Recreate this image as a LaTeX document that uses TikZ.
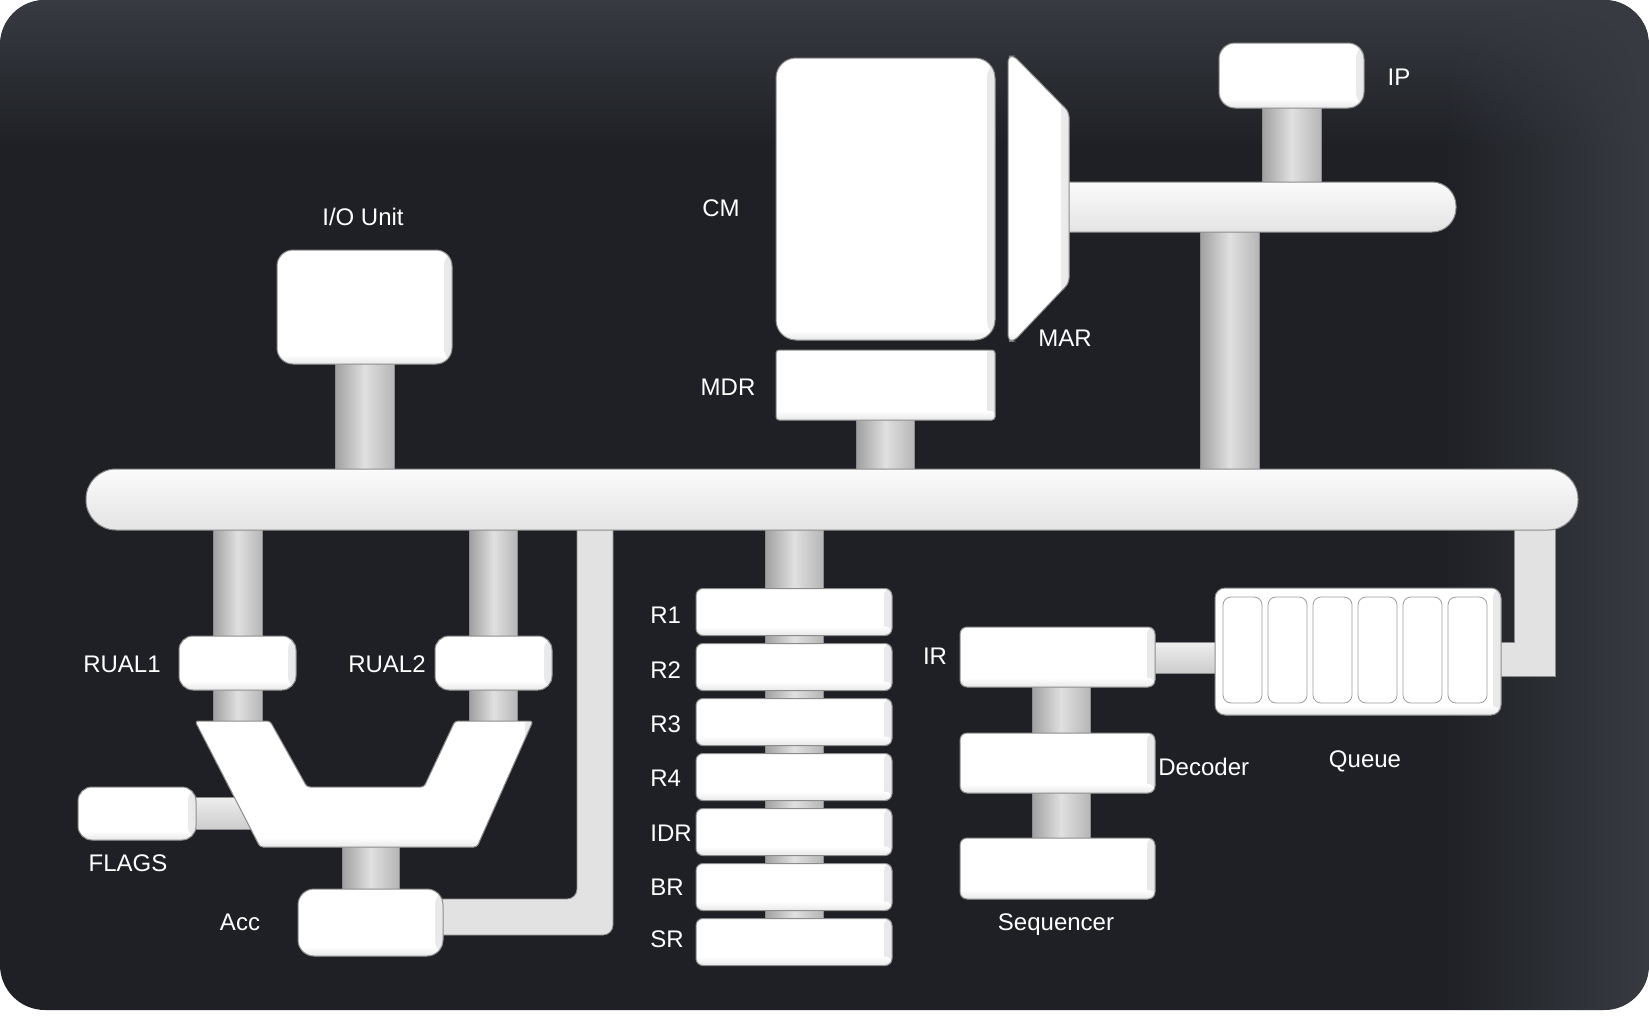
\documentclass[tikz,border=0pt]{standalone}
\usepackage{fontspec}
\setmainfont{Liberation Sans}
\usetikzlibrary{calc,fadings}
\definecolor{cardbg}{HTML}{1E2025}
\definecolor{cardhi}{HTML}{383B41}
\definecolor{edgegray}{HTML}{8C8C8C}
\definecolor{connA}{HTML}{A0A0A0}
\definecolor{connB}{HTML}{E0E0E0}
\definecolor{connC}{HTML}{B6B6B6}
\definecolor{hconA}{HTML}{EEEEEE}
\definecolor{hconB}{HTML}{CCCCCC}
\definecolor{busA}{HTML}{FBFBFB}
\definecolor{busB}{HTML}{E4E4E4}
\definecolor{lbarc}{HTML}{E2E2E2}
\definecolor{slotedge}{HTML}{9C9C9C}
\pgfdeclarelayer{card}
\pgfdeclarelayer{conn}
\pgfsetlayers{card,conn,main}
\tikzset{
  blk/.style={draw=edgegray, line width=0.5pt, fill=white, inner sep=0pt, outer sep=0pt,
    path picture={
      \shade[left color=white, right color=black!9] ([xshift=-4pt]path picture bounding box.north east) rectangle ([xshift=1pt]path picture bounding box.south east);
      \shade[top color=white, bottom color=black!11] ([yshift=-1pt]path picture bounding box.south west) rectangle ([yshift=4.5pt]path picture bounding box.south east);
    }},
  busbar/.style={draw=edgegray, line width=0.5pt, top color=busA, bottom color=busB, inner sep=0pt, outer sep=0pt},
  slot/.style={draw=slotedge, line width=0.4pt, fill=white, rounded corners=4pt, minimum width=19.5pt, minimum height=53pt, inner sep=0pt},
  reg/.style={blk, rounded corners=3.5pt, minimum width=98pt, minimum height=23.5pt},
  vconn/.style={draw=edgegray, line width=0.4pt, left color=connA, right color=connC, middle color=connB},
  hconn/.style={draw=edgegray, line width=0.4pt, top color=hconA, bottom color=hconB},
  lconn/.style={draw=edgegray, line width=0.4pt, fill=lbarc},
  lbl/.style={text=white, font=\fontsize{12pt}{14pt}\selectfont, inner sep=0pt, text height=8.6pt, text depth=0pt},
}
\begin{document}
\begin{tikzpicture}[x=0.5pt,y=-0.5pt]
\useasboundingbox (0,0) rectangle (1649,1017);
\begin{pgfonlayer}{card}
\fill[white] (0,0) rectangle (1649,1017);
\fill[cardbg, rounded corners=22.5pt] (0,0) rectangle (1649,1010);
\begin{scope}
\clip[rounded corners=22.5pt] (0,0) rectangle (1649,1010);
\fill[cardhi, path fading=south] (0,0) rectangle (1649,150);
\fill[cardhi, path fading=west] (1440,0) rectangle (1649,1010);
\end{scope}
\end{pgfonlayer}

% buses
\node[busbar, rounded corners=15pt, minimum width=746pt, minimum height=30.5pt] (bus) at (832,499.5) {};
\node[busbar, rounded corners=12pt, minimum width=208pt, minimum height=25pt] (abus) at (1248,207) {};

% memory side
\node[blk, rounded corners=10pt, minimum width=109.5pt, minimum height=141pt] (cm) at (885.5,199) {};
\draw[blk, rounded corners=2.5pt] (1008,56) -- (1014,56) -- (1069,112) -- (1069,283) -- (1014,341) -- (1008,341) -- cycle;
\node[blk, rounded corners=1.5pt, minimum width=109.5pt, minimum height=35pt] (mdr) at (885.5,385) {};
\node[blk, rounded corners=8pt, minimum width=72.5pt, minimum height=32.5pt] (ip) at (1291.5,75.5) {};
\node[blk, rounded corners=8pt, minimum width=87.5pt, minimum height=57pt] (io) at (364.5,307) {};

% ALU side
\node[blk, rounded corners=7pt, minimum width=58.5pt, minimum height=27pt] (rual1) at (237.5,663) {};
\node[blk, rounded corners=7pt, minimum width=58.5pt, minimum height=27pt] (rual2) at (493.5,663) {};
\node[blk, rounded corners=7pt, minimum width=59pt, minimum height=26.5pt] (flags) at (137,813.5) {};
\node[blk, rounded corners=8pt, minimum width=72.5pt, minimum height=33.5pt] (acc) at (370.5,922.5) {};
\draw[blk, rounded corners=1.5pt] (195,721) -- (270,721) -- (307,787) -- (424,787) -- (455,721) -- (533,721) -- (477,847) -- (260,847) -- cycle;
\coordinate (aluT) at (364,735);
\coordinate (aluW) at (262,813);
\coordinate (aluB) at (370.5,830);

% registers
\foreach \n/\y in {r1/612, r2/667, r3/722, r4/777, idr/832, br/887, sr/942} {
  \node[reg] (\n) at (794,\y) {};
}
\foreach \n/\t/\y in {r1/R1/615, r2/R2/670, r3/R3/724, r4/R4/778, idr/IDR/833, br/BR/887, sr/SR/939} {
  \node[lbl, anchor=west] (\n lab) at (650,\y) {\t};
}

% control side
\node[blk, rounded corners=3.5pt, minimum width=97.5pt, minimum height=30pt] (ir) at (1057.5,657) {};
\node[blk, rounded corners=3.5pt, minimum width=97.5pt, minimum height=30pt] (dec) at (1057.5,763) {};
\node[blk, rounded corners=3.5pt, minimum width=97.5pt, minimum height=30.5pt] (seq) at (1057.5,868.5) {};
\node[blk, rounded corners=5pt, minimum width=143pt, minimum height=63.5pt] (queue) at (1358,651.5) {};
\foreach \i in {0,...,5} {
  \node[slot] (q\i) at (1242.5+45*\i,650) {};
}

% connectors
\begin{pgfonlayer}{conn}
\path[vconn] ($(io.center)+(-29.5,0)$) rectangle ($(io.center |- bus.center)+(29.5,0)$);
\path[vconn] ($(mdr.center)+(-29,0)$) rectangle ($(mdr.center |- bus.center)+(29,0)$);
\path[vconn] ($(ip.center)+(-29.5,0)$) rectangle ($(ip.center |- abus.center)+(29.5,0)$);
\path[vconn] ($(abus.center)+(-48,0)$) rectangle ($(abus.center |- bus.center)+(11,0)$);
\path[vconn] ($(rual1.center |- bus.center)+(-24.5,0)$) rectangle ($(rual1.center)+(24.5,0)$);
\path[vconn] ($(rual1.center)+(-24.5,0)$) rectangle ($(rual1.center |- aluT)+(24.5,0)$);
\path[vconn] ($(rual2.center |- bus.center)+(-24,0)$) rectangle ($(rual2.center)+(24,0)$);
\path[vconn] ($(rual2.center)+(-24,0)$) rectangle ($(rual2.center |- aluT)+(24,0)$);
\path[vconn] ($(aluB)+(-28.5,0)$) rectangle ($(acc.center)+(28.5,0)$);
\path[vconn] ($(r1.center |- bus.center)+(-29,0)$) rectangle ($(sr.center)+(29,0)$);
\path[vconn] ($(ir.center)+(-25.5,0)$) rectangle ($(seq.center)+(32.5,0)$);
\path[hconn] ($(flags.center)+(0,-16.5)$) rectangle ($(aluW)+(0,16.5)$);
\path[hconn] ($(ir.center)+(0,-15)$) rectangle ($(queue.center |- ir.center)+(0,16)$);
\coordinate (accJ) at (595,917);
\path[lconn, rounded corners=5pt] ($(acc.center |- accJ)+(0,-18)$) -- ($(accJ)+(-18,-18)$) -- ($(accJ |- bus.center)+(-18,0)$) -- ($(accJ |- bus.center)+(18,0)$) -- ($(accJ)+(18,18)$) -- ($(acc.center |- accJ)+(0,18)$) -- cycle;
\coordinate (qJ) at (1534.5,659.5);
\path[lconn] ($(queue.center |- qJ)+(0,-17)$) -- ($(qJ)+(-20.5,-17)$) -- ($(qJ |- bus.center)+(-20.5,0)$) -- ($(qJ |- bus.center)+(20.5,0)$) -- ($(qJ)+(20.5,17)$) -- ($(queue.center |- qJ)+(0,17)$) -- cycle;
\end{pgfonlayer}

% labels
\node[lbl] (iolab) at (363,217) {I/O Unit};
\node[lbl] (cmlab) at (721,208) {CM};
\node[lbl] (mdrlab) at (728,387) {MDR};
\node[lbl] (marlab) at (1065,338) {MAR};
\node[lbl] (iplab) at (1399,77) {IP};
\node[lbl] (rual1lab) at (122,664) {RUAL1};
\node[lbl] (rual2lab) at (387,664) {RUAL2};
\node[lbl] (flagslab) at (128,863) {FLAGS};
\node[lbl] (acclab) at (240,922) {Acc};
\node[lbl] (irlab) at (935,656) {IR};
\node[lbl, anchor=west] (declab) at (1158,767) {Decoder};
\node[lbl] (seqlab) at (1056,922) {Sequencer};
\node[lbl] (queuelab) at (1365,759) {Queue};
\end{tikzpicture}
\end{document}
